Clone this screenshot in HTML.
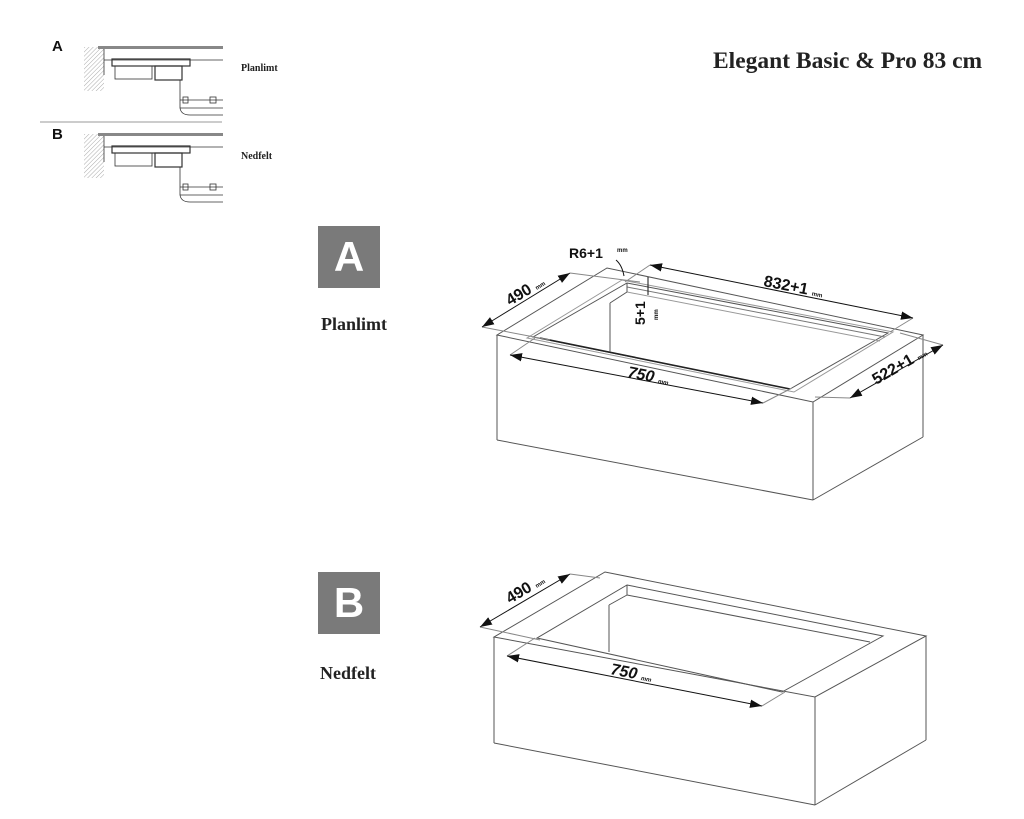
<!DOCTYPE html>
<html><head><meta charset="utf-8"><style>
body{margin:0;background:#fff;width:1024px;height:819px;overflow:hidden;position:relative;font-family:"Liberation Serif",serif}
.t{position:absolute;font-weight:bold;color:#222}
.sq{position:absolute;width:62px;height:62px;background:#7a7a7a;color:#fff;font-family:"Liberation Sans",sans-serif;font-weight:bold;font-size:42px;text-align:center;line-height:62px}
</style></head><body>
<svg width="1024" height="819" style="position:absolute;left:0;top:0" font-family="Liberation Sans, sans-serif">
<defs>
<pattern id="h" width="3" height="3" patternUnits="userSpaceOnUse" patternTransform="rotate(45)"><line x1="0" y1="0" x2="0" y2="3" stroke="#aaa" stroke-width="1"/></pattern>
<marker id="a" viewBox="0 0 10 10" refX="10" refY="5" markerWidth="12" markerHeight="12" orient="auto-start-reverse"><path d="M0,1.5L10,5L0,8.5z" fill="#111"/></marker>
</defs>
<g id="thumb" stroke="#333" fill="none" stroke-width="0.8">
<rect x="84" y="47" width="20" height="44" fill="url(#h)" stroke="none"/>
<line x1="104" y1="47" x2="104" y2="75" />
<rect x="98" y="46" width="125" height="3" fill="#888" stroke="none"/>
<line x1="104" y1="60" x2="223" y2="60"/>
<rect x="112" y="59" width="78" height="7" stroke-width="1.2"/>
<rect x="115" y="66" width="37" height="13"/>
<rect x="155" y="66" width="27" height="14" stroke-width="1.2"/>
<path d="M180,80 V108 Q181,115 190,115 H223"/>
<line x1="180" y1="100" x2="223" y2="100"/><line x1="180" y1="108" x2="223" y2="108"/>
<rect x="183" y="97" width="5" height="6"/><rect x="210" y="97" width="6" height="6"/>
</g>
<use href="#thumb" y="87"/>
<line x1="40" y1="122" x2="222" y2="122" stroke="#999"/>
<text x="52" y="51" font-size="15" font-weight="bold" fill="#111">A</text>
<text x="52" y="139" font-size="15" font-weight="bold" fill="#111">B</text>

<g stroke="#555" fill="none" stroke-width="1">
<polygon points="497,335 813,402 923,335 607,268"/>
<line x1="497" y1="335" x2="497" y2="440"/><line x1="497" y1="440" x2="813" y2="500"/>
<line x1="813" y1="402" x2="813" y2="500"/><line x1="923" y1="335" x2="923" y2="437"/><line x1="813" y1="500" x2="923" y2="437"/>
<polygon points="627,283 888,333 790,389 533,337"/>
<polygon points="622,280 893,332 794,392 527,338" stroke="#999"/>
<line x1="627" y1="287" x2="885" y2="337" stroke="#777"/>
<line x1="627" y1="292" x2="880" y2="341" stroke="#999"/>
<line x1="627" y1="283" x2="627" y2="292"/>
<line x1="540" y1="338" x2="790" y2="389" stroke="#222" stroke-width="1.6"/>
<line x1="627" y1="292" x2="610" y2="303"/>
<line x1="610" y1="303" x2="610" y2="352"/>
<line x1="570" y1="273" x2="640" y2="282" stroke="#888"/>
<line x1="482" y1="327" x2="550" y2="340" stroke="#888"/>
<line x1="650" y1="265" x2="625" y2="282" stroke="#888"/>
<line x1="913" y1="318" x2="890" y2="332" stroke="#888"/>
<line x1="510" y1="355" x2="535" y2="338" stroke="#888"/>
<line x1="763" y1="403" x2="792" y2="388" stroke="#888"/>
<line x1="850" y1="398" x2="815" y2="397" stroke="#888"/>
<line x1="943" y1="345" x2="900" y2="333" stroke="#888"/>
</g>
<g stroke="#111" stroke-width="1" marker-start="url(#a)" marker-end="url(#a)">
<line x1="482" y1="327" x2="570" y2="273"/>
<line x1="650" y1="265" x2="913" y2="318"/>
<line x1="850" y1="398" x2="943" y2="345"/>
<line x1="510" y1="355" x2="763" y2="403"/>
</g>
<line x1="648" y1="277" x2="648" y2="295" stroke="#111"/>
<path d="M616,260 Q622,265 624,276" stroke="#111" fill="none"/>
<g fill="#111" font-weight="bold">
<text x="569" y="258" font-size="14">R6+1</text><text x="617" y="252" font-size="6">mm</text>
<text transform="translate(510,306) rotate(-31)" font-size="16">490 <tspan font-size="6">mm</tspan></text>
<text transform="translate(763,286) rotate(11)" font-size="16">832+1 <tspan font-size="6">mm</tspan></text>
<text transform="translate(876,385) rotate(-30)" font-size="16">522+1 <tspan font-size="6">mm</tspan></text>
<text transform="translate(627,377) rotate(11)" font-size="16" font-style="italic">750 <tspan font-size="6">mm</tspan></text>
<text transform="translate(645,325) rotate(-90)" font-size="14">5+1</text>
<text transform="translate(658,320) rotate(-90)" font-size="6">mm</text>
</g>

<g stroke="#555" fill="none" stroke-width="1">
<polygon points="494,637 815,697 926,636 605,572"/>
<line x1="494" y1="637" x2="494" y2="743"/><line x1="494" y1="743" x2="815" y2="805"/>
<line x1="815" y1="697" x2="815" y2="805"/><line x1="926" y1="636" x2="926" y2="740"/><line x1="815" y1="805" x2="926" y2="740"/>
<polygon points="627,585 883,636 782,692 537,638"/>
<line x1="627" y1="585" x2="627" y2="595"/>
<line x1="627" y1="595" x2="870" y2="642"/>
<line x1="627" y1="595" x2="609" y2="605"/>
<line x1="609" y1="605" x2="609" y2="652"/>
<line x1="570" y1="574" x2="600" y2="578" stroke="#888"/>
<line x1="480" y1="627" x2="540" y2="640" stroke="#888"/>
<line x1="507" y1="656" x2="535" y2="638" stroke="#888"/>
<line x1="762" y1="706" x2="785" y2="692" stroke="#888"/>
</g>
<g stroke="#111" stroke-width="1" marker-start="url(#a)" marker-end="url(#a)">
<line x1="480" y1="627" x2="570" y2="574"/>
<line x1="507" y1="656" x2="762" y2="706"/>
</g>
<g fill="#111" font-weight="bold">
<text transform="translate(510,604) rotate(-31)" font-size="16">490 <tspan font-size="6">mm</tspan></text>
<text transform="translate(610,674) rotate(11)" font-size="16" font-style="italic">750 <tspan font-size="6">mm</tspan></text>
</g>
</svg>
<div class="t" style="left:241px;top:63px;font-size:10px">Planlimt</div>
<div class="t" style="left:241px;top:151px;font-size:10px">Nedfelt</div>
<div class="t" style="left:713px;top:48px;font-size:23.5px">Elegant Basic &amp; Pro 83 cm</div>
<div class="sq" style="left:318px;top:226px">A</div>
<div class="sq" style="left:318px;top:572px">B</div>
<div class="t" style="left:321px;top:314px;font-size:18px">Planlimt</div>
<div class="t" style="left:320px;top:663px;font-size:18px">Nedfelt</div>
</body></html>
